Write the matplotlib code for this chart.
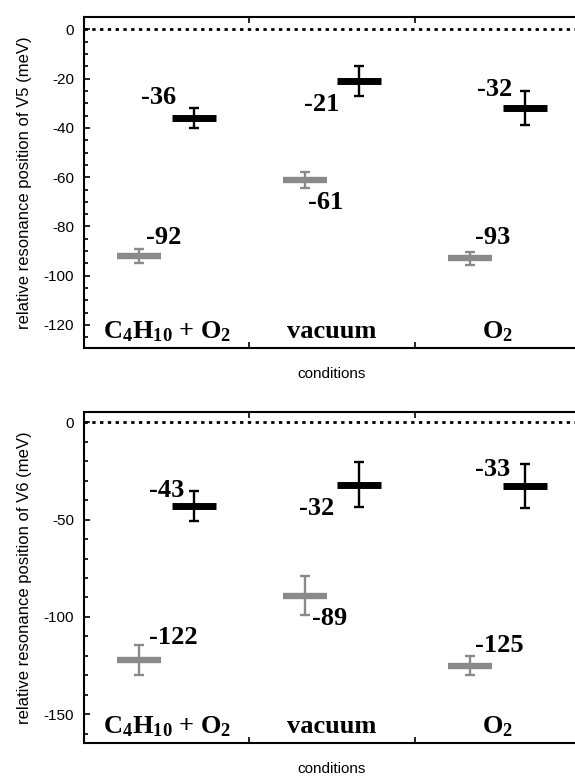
import numpy as np
import matplotlib
matplotlib.use('Agg')
from matplotlib import pyplot as plt
from matplotlib.ticker import MultipleLocator

plt.rcParams['font.family'] = 'Liberation Sans'
plt.rcParams['axes.unicode_minus'] = False
plt.rcParams['mathtext.fontset'] = 'custom'
plt.rcParams['mathtext.rm'] = 'Liberation Serif:bold'
plt.rcParams['mathtext.bf'] = 'Liberation Serif:bold'
plt.rcParams['mathtext.it'] = 'Liberation Serif:bold'

# data
conditions = [r'C$_4$H$_{10}$ + O$_2$', 'vacuum', r'O$_2$']

v5_gray = [-92, -61, -93]
v5_gray_err = [3, 3.3, 2.5]
v5_black = [-36, -21, -32]
v5_black_err = [4.2, 6, 6.8]

v6_gray = [-122, -89, -125]
v6_gray_err = [7.7, 10, 5]
v6_black = [-43, -32, -33]
v6_black_err = [7.6, 11.5, 11.3]

# label offsets (dx, dy) from each mark
v5_gray_off = [(0.145, 7.4), (0.125, -9.3), (0.135, 8.7)]
v5_black_off = [(-0.215, 8.5), (-0.23, -9.4), (-0.18, 7.6)]
v6_gray_off = [(0.205, 11.2), (0.15, -11.9), (0.175, 10.4)]
v6_black_off = [(-0.165, 7.7), (-0.255, -12.3), (-0.195, 8.5)]

panels = [
    ('relative resonance position of V5 (meV)', v5_gray, v5_gray_err, v5_black, v5_black_err,
     v5_gray_off, v5_black_off, (-129.2, 5), 20, 5),
    ('relative resonance position of V6 (meV)', v6_gray, v6_gray_err, v6_black, v6_black_err,
     v6_gray_off, v6_black_off, (-164.6, 5.1), 50, 10),
]

fig = plt.figure(figsize=(5.75, 7.76), dpi=100)
boxes = [[0.146, 0.552, 0.8627, 0.426], [0.146, 0.0429, 0.8627, 0.4258]]

x = np.arange(len(conditions))
for box, (ylab, g, ge, b, be, goff, boff, ylim, major, minor) in zip(boxes, panels):
    ax = fig.add_axes(box)
    ax.axhline(0, color='black', lw=2, linestyle=(0, (1.2, 1.6)))

    # error bars, then the wide flat marks on top
    ax.errorbar(x + 0.335, g, yerr=ge, fmt='none', ecolor='#8a8a8a',
                elinewidth=1.7, capsize=3.8, capthick=1.7)
    ax.errorbar(x + 0.665, b, yerr=be, fmt='none', ecolor='black',
                elinewidth=1.7, capsize=3.8, capthick=1.7)
    ax.plot(x + 0.335, g, ls='none', marker='_', color='#8a8a8a', ms=31, mew=4.6)
    ax.plot(x + 0.665, b, ls='none', marker='_', color='black', ms=31, mew=5)

    for i in range(len(conditions)):
        ax.text(x[i] + 0.335 + goff[i][0], g[i] + goff[i][1], str(g[i]), ha='center', va='center',
                fontsize=19, fontweight='bold', family='Liberation Serif')
        ax.text(x[i] + 0.665 + boff[i][0], b[i] + boff[i][1], str(b[i]), ha='center', va='center',
                fontsize=19, fontweight='bold', family='Liberation Serif')
        ax.text(x[i] + 0.5, 0.028, conditions[i], transform=ax.get_xaxis_transform(),
                ha='center', va='baseline', fontsize=19, fontweight='bold', family='Liberation Serif')

    ax.set_xlim(0, 3)
    ax.set_ylim(*ylim)
    ax.set_xticks([1, 2])
    ax.set_xticklabels([])
    ax.yaxis.set_major_locator(MultipleLocator(major))
    ax.yaxis.set_minor_locator(MultipleLocator(minor))
    ax.tick_params(axis='both', which='both', direction='in', top=True, right=False)
    ax.tick_params(axis='y', which='major', length=4.5, width=1.2, labelsize=11, pad=7)
    ax.tick_params(axis='y', which='minor', length=3, width=1.2)
    ax.tick_params(axis='x', which='major', length=4.5, width=1.2)
    for s in ax.spines.values():
        s.set_linewidth(1.5)

    ax.set_ylabel(ylab, fontsize=12, va='center')
    ax.yaxis.set_label_coords(-0.119, 0.5)
    ax.text(0.5, -0.08, 'conditions', transform=ax.transAxes, ha='center', va='center', fontsize=11)

fig.savefig('out.png', dpi=100)
